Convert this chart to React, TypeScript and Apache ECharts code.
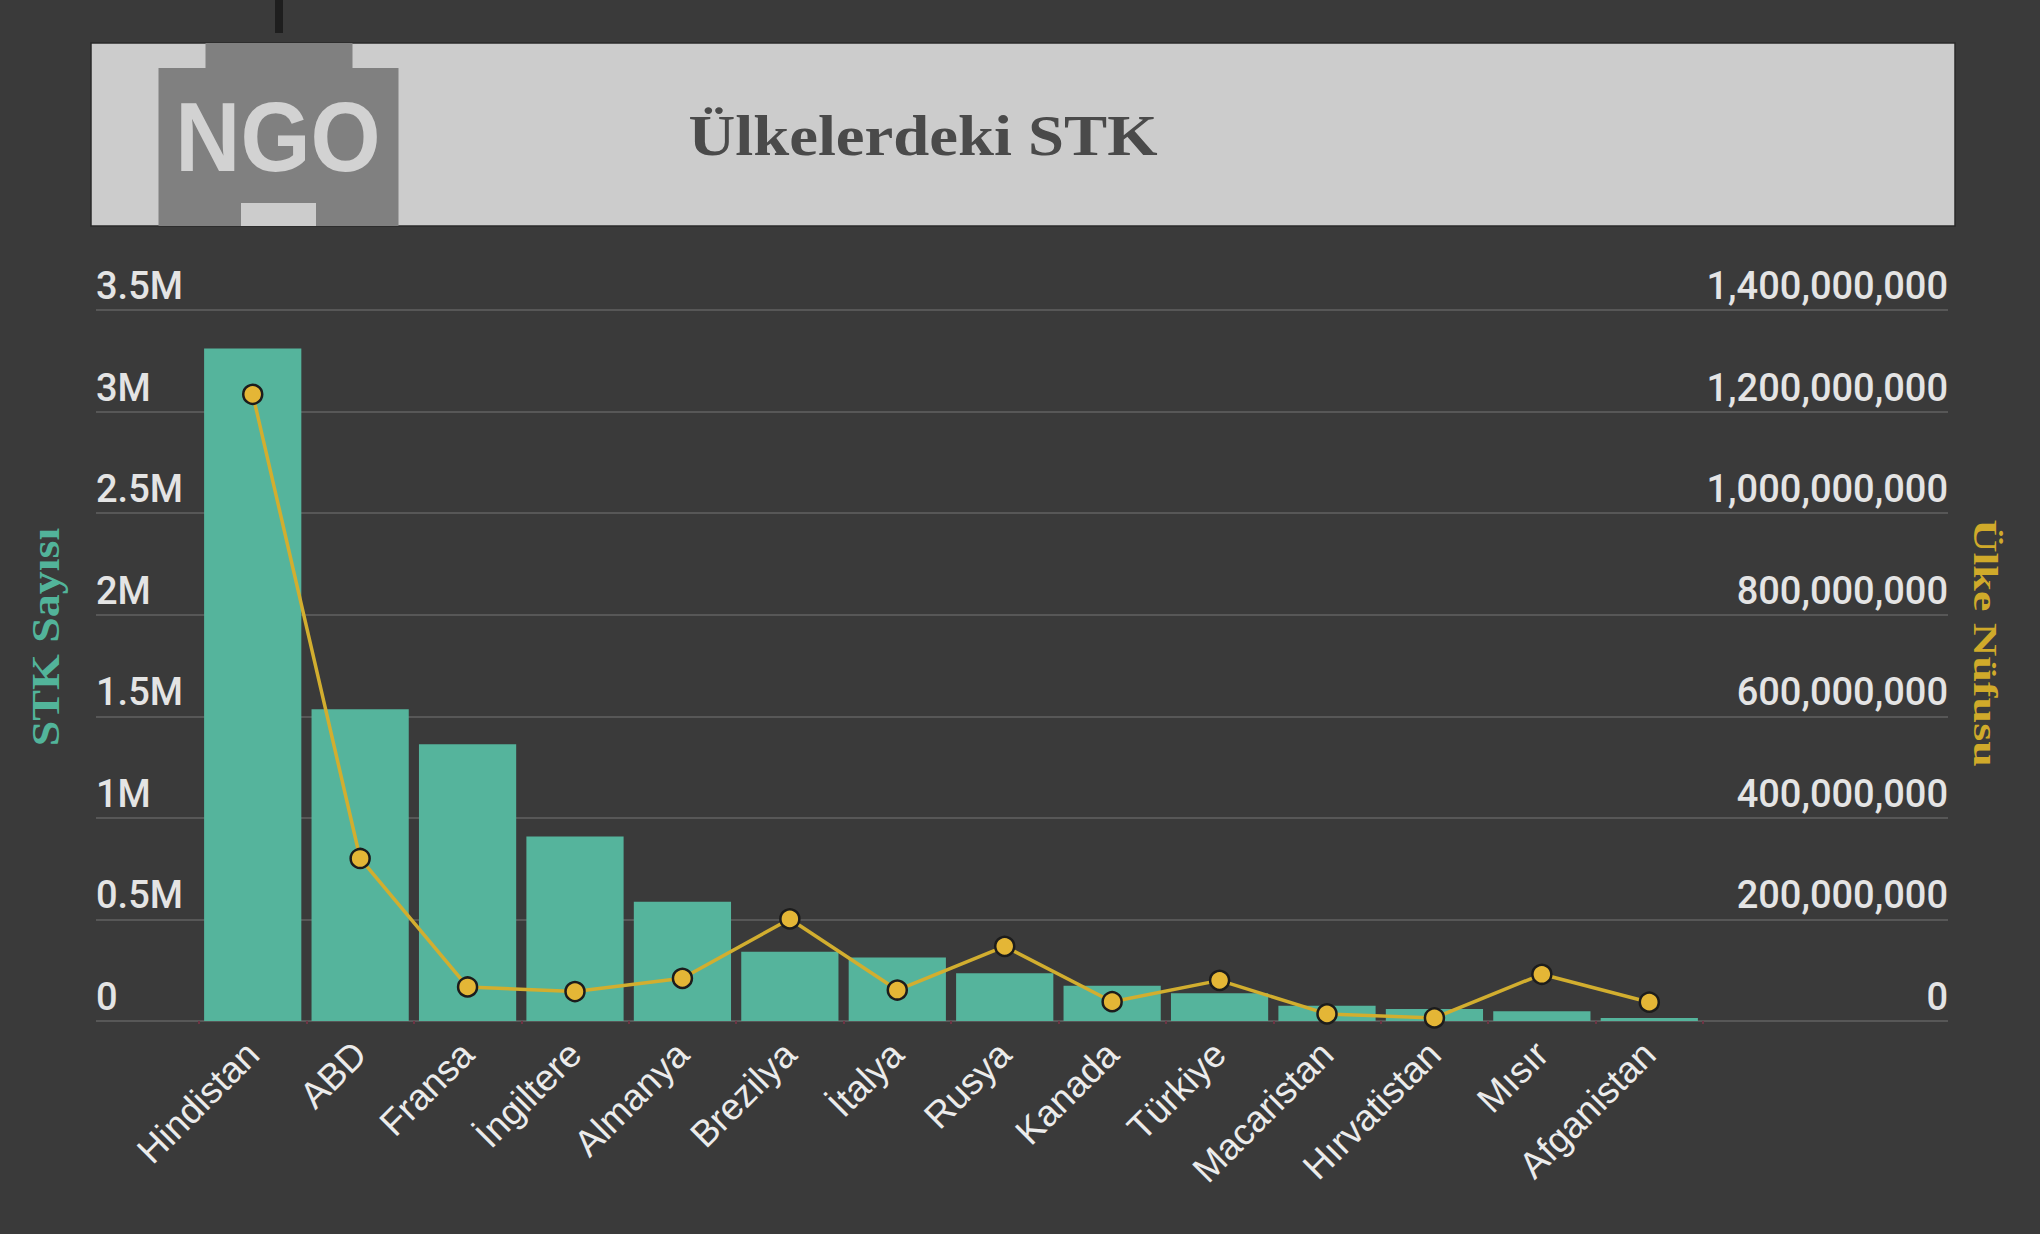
import React, { useEffect, useRef } from "react";
import * as echarts from "echarts";

const categories = [
  "Hindistan",
  "ABD",
  "Fransa",
  "İngiltere",
  "Almanya",
  "Brezilya",
  "İtalya",
  "Rusya",
  "Kanada",
  "Türkiye",
  "Macaristan",
  "Hırvatistan",
  "Mısır",
  "Afganistan",
];

const ngoCounts = [
  3310000, 1535000, 1362000, 908000, 587000, 341000, 312000, 235000, 174000,
  137000, 75000, 59000, 48000, 15000,
];

const population = [
  1234000000, 320000000, 67000000, 58000000, 84000000, 201000000, 61000000,
  147000000, 38000000, 80000000, 14000000, 6000000, 92000000, 37000000,
];

const leftTickLabels = ["0", "0.5M", "1M", "1.5M", "2M", "2.5M", "3M", "3.5M"];
const leftStep = 500000;
const leftMax = 3500000;
const rightStep = 200000000;
const rightMax = 1400000000;

const titleText = "Ülkelerdeki STK";
const logoText = "NGO";
const leftAxisName = "STK Sayısı";
const rightAxisName = "Ülke Nüfusu";

function withCommas(v: number): string {
  return String(Math.round(v)).replace(/\B(?=(\d{3})+(?!\d))/g, ",");
}

export default function App() {
  const ref = useRef<HTMLDivElement>(null);

  useEffect(() => {
    if (!ref.current) return;
    const chart = echarts.init(ref.current, undefined, { renderer: "svg" });

    const gridTop = 310;
    const gridBottom = 213;

    const option: any = {
      animation: false,
      backgroundColor: "#3a3a3a",
      grid: [
        { left: 96, right: 92, top: gridTop, bottom: gridBottom },
        { left: 199, right: 337, top: gridTop, bottom: gridBottom },
      ],
      xAxis: [
        { type: "value", gridIndex: 0, show: false, min: 0, max: 1 },
        {
          type: "category",
          gridIndex: 1,
          data: categories,
          boundaryGap: true,
          axisLine: { show: false },
          axisTick: {
            show: true,
            length: 3,
            lineStyle: { color: "#6e3444", width: 2 },
          },
          axisLabel: {
            interval: 0,
            rotate: 45,
            margin: 27,
            color: "#ebebeb",
            fontSize: 37,
            fontFamily: "Liberation Sans, Arial, sans-serif",
          },
        },
      ],
      yAxis: [
        {
          type: "value",
          gridIndex: 0,
          position: "left",
          min: 0,
          max: leftMax,
          interval: leftStep,
          axisLine: { show: false },
          axisTick: { show: false },
          splitLine: { show: true, lineStyle: { color: "#626262", width: 1.5 } },
          axisLabel: {
            inside: true,
            margin: 0,
            align: "left",
            verticalAlign: "bottom",
            padding: [0, 0, 5, 0],
            color: "#e4e4e4",
            fontSize: 38,
            fontWeight: 500,
            fontFamily: "Roboto, sans-serif",
            formatter: (v: number) => leftTickLabels[Math.round(v / leftStep)] ?? "",
          },
        },
        {
          type: "value",
          gridIndex: 0,
          position: "right",
          min: 0,
          max: rightMax,
          interval: rightStep,
          axisLine: { show: false },
          axisTick: { show: false },
          splitLine: { show: false },
          axisLabel: {
            inside: true,
            margin: 0,
            align: "right",
            verticalAlign: "bottom",
            padding: [0, 0, 5, 0],
            color: "#e4e4e4",
            fontSize: 38,
            fontWeight: 500,
            fontFamily: "Roboto, sans-serif",
            formatter: (v: number) => withCommas(v),
          },
        },
        { type: "value", gridIndex: 1, min: 0, max: leftMax, show: false },
        { type: "value", gridIndex: 1, min: 0, max: rightMax, show: false },
      ],
      series: [
        {
          name: leftAxisName,
          type: "bar",
          xAxisIndex: 1,
          yAxisIndex: 2,
          data: ngoCounts,
          barCategoryGap: "9.5%",
          itemStyle: { color: "#55b49c" },
          z: 2,
        },
        {
          name: rightAxisName,
          type: "line",
          xAxisIndex: 1,
          yAxisIndex: 3,
          data: population,
          symbol: "circle",
          symbolSize: 19,
          lineStyle: { color: "#d2ae2f", width: 3.5 },
          itemStyle: { color: "#e4b636", borderColor: "#1c1c1c", borderWidth: 2.5 },
          z: 5,
        },
      ],
      graphic: [
        {
          type: "rect",
          shape: { x: 0, y: 0, width: 8, height: 33 },
          x: 275,
          y: 0,
          style: { fill: "#1e1e1e" },
        },
        {
          type: "rect",
          shape: { x: 0, y: 0, width: 1864, height: 183 },
          x: 91,
          y: 43,
          style: { fill: "#cccccc", stroke: "#2a2a2a", lineWidth: 1.5 },
        },
        {
          type: "rect",
          shape: { x: 0, y: 0, width: 240, height: 158 },
          x: 158.5,
          y: 68,
          style: { fill: "#808080" },
        },
        {
          type: "rect",
          shape: { x: 0, y: 0, width: 147, height: 26 },
          x: 205.5,
          y: 43,
          style: { fill: "#808080" },
        },
        {
          type: "rect",
          shape: { x: 0, y: 0, width: 75, height: 23 },
          x: 241,
          y: 203,
          style: { fill: "#cccccc" },
        },
        {
          type: "text",
          x: 278,
          y: 137,
          scaleX: 0.92,
          style: {
            text: logoText,
            fill: "#d2d2d2",
            font: "bold 98px 'Liberation Sans', Arial, sans-serif",
            align: "center",
            verticalAlign: "middle",
          },
        },
        {
          type: "text",
          x: 923,
          y: 136,
          scaleX: 1.155,
          style: {
            text: titleText,
            fill: "#4a4a4a",
            font: "bold 56px 'Liberation Serif', 'Times New Roman', serif",
            align: "center",
            verticalAlign: "middle",
          },
        },
        {
          type: "text",
          x: 46,
          y: 637,
          rotation: Math.PI / 2,
          scaleX: 1.15,
          style: {
            text: leftAxisName,
            fill: "#52b49a",
            font: "bold 40px 'Liberation Serif', 'Times New Roman', serif",
            align: "center",
            verticalAlign: "middle",
          },
        },
        {
          type: "text",
          x: 1985,
          y: 643,
          rotation: -Math.PI / 2,
          scaleX: 1.4,
          style: {
            text: rightAxisName,
            fill: "#d0aa2a",
            font: "bold 33px 'Liberation Serif', 'Times New Roman', serif",
            align: "center",
            verticalAlign: "middle",
          },
        },
      ],
    };

    chart.setOption(option);
    return () => chart.dispose();
  }, []);

  return (
    <div
      ref={ref}
      style={{
        position: "fixed",
        left: 0,
        top: 0,
        width: 2040,
        height: 1234,
        background: "#3a3a3a",
      }}
    />
  );
}
